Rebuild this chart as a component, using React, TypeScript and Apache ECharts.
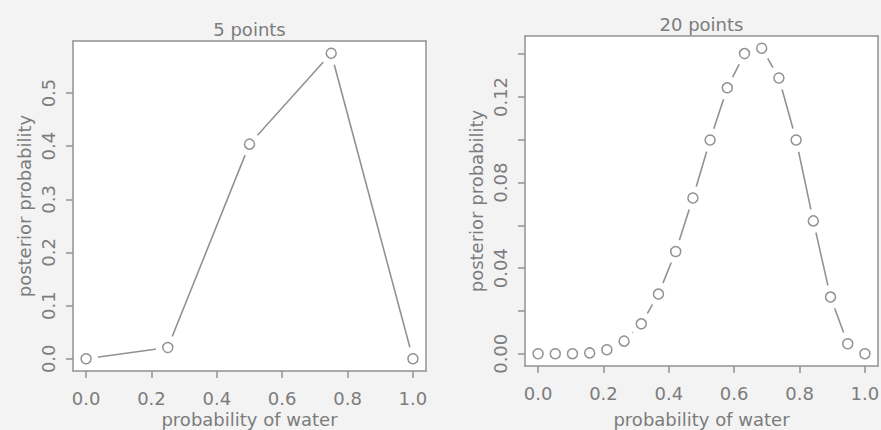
import React, { useEffect, useRef } from "react";
import * as echarts from "echarts";

// 5-point grid approximation
const grid5 = [0, 0.25, 0.5, 0.75, 1];
const post5 = [0, 0.0213, 0.4038, 0.5749, 0];

// 20-point grid approximation
const grid20 = [
  0, 0.0526, 0.1053, 0.1579, 0.2105, 0.2632, 0.3158, 0.3684, 0.4211, 0.4737,
  0.5263, 0.5789, 0.6316, 0.6842, 0.7368, 0.7895, 0.8421, 0.8947, 0.9474, 1,
];
const post20 = [
  0, 0.0000008, 0.00004, 0.0004, 0.0019, 0.0059, 0.014, 0.0279, 0.0478, 0.0728,
  0.0999, 0.1243, 0.1403, 0.1428, 0.1289, 0.0999, 0.0621, 0.0265, 0.0047, 0,
];

const xTicks = [0, 0.2, 0.4, 0.6, 0.8, 1];
const yTicks5 = [0, 0.1, 0.2, 0.3, 0.4, 0.5];
const yTicks20 = [0, 0.02, 0.04, 0.06, 0.08, 0.1, 0.12, 0.14];
const yLabels20 = [0, 0.04, 0.08, 0.12];

const titles = ["5 points", "20 points"];
const xTitle = "probability of water";
const yTitle = "posterior probability";

const FONT = "DejaVu Sans";
const TEXT = "#7c7c7c";
const LINE = "#929292";

function pad(lo: number, hi: number) {
  const d = (hi - lo) * 0.04;
  return [lo - d, hi + d];
}

export default function App() {
  const ref = useRef<HTMLDivElement>(null);

  useEffect(() => {
    document.body.style.margin = "0";
    const chart = echarts.init(ref.current!, undefined, { renderer: "svg" });

    const panels = [
      { xs: grid5, ys: post5, yTicks: yTicks5, yLabels: yTicks5, dec: 1, xGap: 39, yGap: 40 },
      { xs: grid20, ys: post20, yTicks: yTicks20, yLabels: yLabels20, dec: 2, xGap: 44, yGap: 40 },
    ];

    const grids = [
      { left: 73, top: 41, width: 353, height: 330 },
      { left: 525, top: 36, width: 353, height: 330 },
    ];

    const xAxis: any[] = [];
    const yAxis: any[] = [];
    const series: any[] = [];

    panels.forEach((p, i) => {
      const [xmin, xmax] = pad(0, 1);
      const [ymin, ymax] = pad(0, Math.max(...p.ys));
      const lineStyle = { color: LINE, width: 1.5 };
      xAxis.push({
        type: "value",
        gridIndex: i,
        min: xmin,
        max: xmax,
        position: "bottom",
        z: 5,
        splitLine: { show: false },
        axisLine: { show: true, onZero: false, lineStyle },
        axisTick: { show: true, inside: false, length: 7, customValues: xTicks, lineStyle },
        axisLabel: {
          customValues: xTicks,
          margin: 18,
          color: TEXT,
          fontFamily: FONT,
          fontSize: 18,
          formatter: (v: number) => v.toFixed(1),
        },
        name: xTitle,
        nameLocation: "middle",
        nameGap: p.xGap,
        nameMoveOverlap: false,
        nameTextStyle: { color: TEXT, fontFamily: FONT, fontSize: 18 },
      });
      xAxis.push({
        type: "value",
        gridIndex: i,
        min: xmin,
        max: xmax,
        position: "top",
        z: 5,
        splitLine: { show: false },
        axisLine: { show: true, onZero: false, lineStyle },
        axisTick: { show: false },
        axisLabel: { show: false },
      });
      yAxis.push({
        type: "value",
        gridIndex: i,
        min: ymin,
        max: ymax,
        position: "left",
        z: 5,
        splitLine: { show: false },
        axisLine: { show: true, onZero: false, lineStyle },
        axisTick: { show: true, inside: false, length: 7, customValues: p.yTicks, lineStyle },
        axisLabel: {
          customValues: p.yLabels,
          rotate: 90,
          margin: 16,
          color: TEXT,
          fontFamily: FONT,
          fontSize: 18,
          formatter: (v: number) => v.toFixed(p.dec),
        },
        name: yTitle,
        nameLocation: "middle",
        nameGap: p.yGap,
        nameMoveOverlap: false,
        nameTextStyle: { color: TEXT, fontFamily: FONT, fontSize: 18 },
      });
      yAxis.push({
        type: "value",
        gridIndex: i,
        min: ymin,
        max: ymax,
        position: "right",
        z: 5,
        splitLine: { show: false },
        axisLine: { show: true, onZero: false, lineStyle },
        axisTick: { show: false },
        axisLabel: { show: false },
      });

      const data = p.xs.map((x, k) => [x, p.ys[k]]);
      const xi = i * 2;
      const yi = i * 2;
      series.push({
        type: "line",
        xAxisIndex: xi,
        yAxisIndex: yi,
        data,
        showSymbol: false,
        lineStyle: { color: LINE, width: 1.6 },
        z: 2,
        silent: true,
      });
      series.push({
        type: "scatter",
        xAxisIndex: xi,
        yAxisIndex: yi,
        data,
        symbol: "circle",
        symbolSize: 24,
        itemStyle: { color: "#ffffff", opacity: 1 },
        z: 3,
        silent: true,
      });
      series.push({
        type: "scatter",
        xAxisIndex: xi,
        yAxisIndex: yi,
        data,
        symbol: "circle",
        symbolSize: 10,
        itemStyle: { color: "#ffffff", borderColor: LINE, borderWidth: 1.5, opacity: 1 },
        z: 4,
        silent: true,
      });
    });

    chart.setOption({
      animation: false,
      backgroundColor: "#f3f3f3",
      grid: grids.map((g) => ({
        ...g,
        show: true,
        backgroundColor: "#ffffff",
        borderWidth: 0,
        containLabel: false,
        outerBoundsMode: "none",
      })),
      xAxis,
      yAxis,
      series,
      graphic: titles.map((t, i) => ({
        type: "text",
        x: grids[i].left + grids[i].width / 2,
        y: grids[i].top - 12,
        style: {
          text: t,
          textAlign: "center",
          textVerticalAlign: "middle",
          fontFamily: FONT,
          fontSize: 18,
          fill: TEXT,
        },
      })),
    });

    return () => chart.dispose();
  }, []);

  return (
    <div
      ref={ref}
      style={{ position: "absolute", left: 0, top: 0, width: 881, height: 430 }}
    />
  );
}
